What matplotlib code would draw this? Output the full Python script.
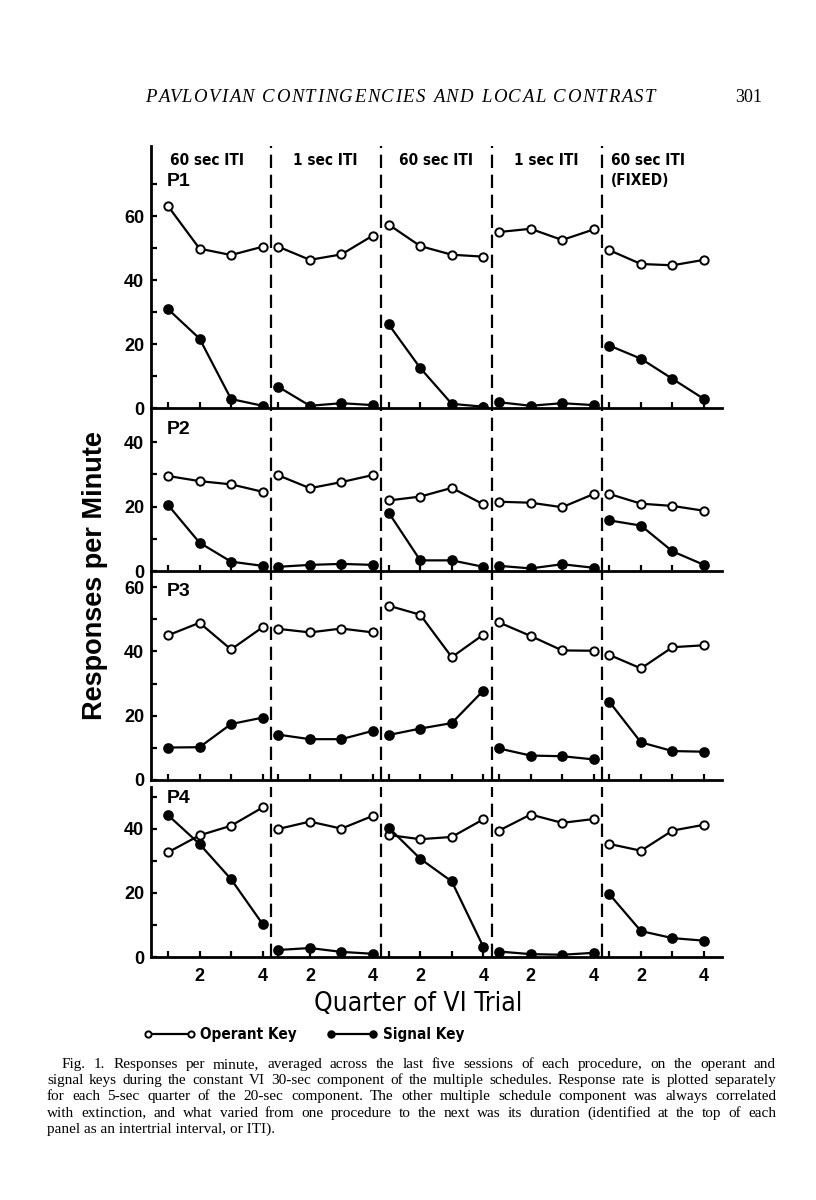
"""Responses per minute on operant and signal keys, four birds, five procedures."""

import matplotlib
matplotlib.use("Agg")
import matplotlib.pyplot as plt
from matplotlib import font_manager as fm

W_PX, H_PX = 816, 1200

sections = ["60 sec ITI", "1 sec ITI", "60 sec ITI", "1 sec ITI", "60 sec ITI\n(FIXED)"]
quarters = [1, 2, 3, 4]
birds = ["P1", "P2", "P3", "P4"]

# one row of 4 quarters per procedure (section)
p1_operant = [[63.1, 49.8, 47.8, 50.4], [50.4, 46.3, 48.0, 53.9], [57.3, 50.6, 47.9, 47.3],
              [55.0, 56.0, 52.5, 55.8], [49.3, 45.0, 44.6, 46.3]]
p1_signal = [[30.9, 21.7, 2.8, 0.7], [6.6, 0.7, 1.5, 0.9], [26.1, 12.5, 1.3, 0.4],
             [1.8, 0.7, 1.5, 0.9], [19.5, 15.4, 9.1, 2.8]]
p2_operant = [[29.5, 27.9, 26.9, 24.6], [29.7, 25.7, 27.6, 29.8], [21.9, 23.1, 25.8, 20.7],
              [21.5, 21.2, 19.8, 23.9], [23.9, 20.9, 20.2, 18.7]]
p2_signal = [[20.5, 8.8, 2.9, 1.6], [1.3, 1.9, 2.2, 1.9], [18.1, 3.3, 3.3, 1.3],
             [1.6, 0.8, 2.1, 1.0], [15.7, 14.1, 6.1, 1.9]]
p3_operant = [[45.0, 48.9, 40.6, 47.5], [47.0, 45.9, 47.1, 45.9], [54.2, 51.4, 38.2, 45.2],
              [49.0, 44.8, 40.3, 40.2], [38.9, 34.7, 41.3, 41.9]]
p3_signal = [[10.1, 10.2, 17.4, 19.4], [14.1, 12.7, 12.7, 15.3], [14.0, 16.0, 17.7, 27.8],
             [9.8, 7.6, 7.4, 6.4], [24.3, 11.7, 9.0, 8.8]]
p4_operant = [[32.7, 38.0, 41.0, 46.7], [40.0, 42.3, 40.1, 44.1], [38.1, 36.8, 37.5, 43.0],
              [39.5, 44.5, 41.9, 43.1], [35.3, 33.2, 39.5, 41.3]]
p4_signal = [[44.3, 35.3, 24.3, 10.3], [2.2, 2.8, 1.6, 1.0], [40.4, 30.7, 23.6, 3.2],
             [1.7, 0.9, 0.7, 1.3], [19.6, 8.1, 5.9, 5.1]]

operant = [p1_operant, p2_operant, p3_operant, p4_operant]
signal = [p1_signal, p2_signal, p3_signal, p4_signal]

y_max = [82, 50.6, 65, 53.1]
y_major = [[0, 20, 40, 60], [0, 20, 40], [0, 20, 40, 60], [0, 20, 40]]
y_minor = [[10, 30, 50, 70], [10, 30], [10, 30, 50], [10, 30, 50]]

header = "PAVLOVIAN CONTINGENCIES AND LOCAL CONTRAST"
caption = [
    "Fig. 1. Responses per minute, averaged across the last five sessions of each procedure, on the operant and",
    "signal keys during the constant VI 30-sec component of the multiple schedules. Response rate is plotted separately",
    "for each 5-sec quarter of the 20-sec component. The other multiple schedule component was always correlated",
    "with extinction, and what varied from one procedure to the next was its duration (identified at the top of each",
    "panel as an intertrial interval, or ITI).",
]

SEC_STEP = 3.5
SANS = ["Liberation Sans", "DejaVu Sans"]
SERIF = ["Liberation Serif", "DejaVu Serif"]


def pick_narrow():
    """Find a condensed sans face if one is installed."""
    entries = [(f.name, f.stretch) for f in fm.fontManager.ttflist]
    for name in ["Liberation Sans Narrow", "DejaVu Sans", "Roboto", "Open Sans", "Noto Sans",
                 "Liberation Sans"]:
        for n, st in entries:
            if n == name and ("Narrow" in n or st not in ("normal", 500, 400)):
                return n, st
    return None, None


NARROW_NAME, NARROW_STRETCH = pick_narrow()


def narrow(size, weight="normal"):
    if NARROW_NAME is None:
        return dict(family=SANS, fontsize=size * 0.88, fontweight=weight)
    return dict(family=[NARROW_NAME, "DejaVu Sans"], fontstretch=NARROW_STRETCH,
                fontsize=size, fontweight=weight)


# panel boxes in pixels (top, bottom)
boxes = [(145.6, 408), (408, 571), (571, 780), (787, 957)]
left_px, right_px = 151, 722

fig = plt.figure(figsize=(W_PX / 100, H_PX / 100), dpi=100)


def fx(px):
    return px / W_PX


def fy(py):
    return 1 - py / H_PX


axes = []
all_x = [s * SEC_STEP + q for s in range(len(sections)) for q in quarters]
for i, (top, bot) in enumerate(boxes):
    ax = fig.add_axes([fx(left_px), fy(bot), fx(right_px - left_px), (bot - top) / H_PX])
    axes.append(ax)
    for s in range(len(sections)):
        xs = [s * SEC_STEP + q for q in quarters]
        ax.plot(xs, operant[i][s], "-o", color="black", lw=1.6, ms=6, mfc="white",
                mew=1.4, label="Operant Key" if s == 0 else None, zorder=3)
        ax.plot(xs, signal[i][s], "-o", color="black", lw=1.6, ms=6.5, mfc="black",
                mew=1.2, label="Signal Key" if s == 0 else None, zorder=3)
    for s in range(len(sections) - 1):
        ax.axvline(s * SEC_STEP + 4.27, color="black", lw=1.6, ls=(0, (6, 3)), zorder=1)

    ax.set_xlim(0.461, 18.57)
    ax.set_ylim(0, y_max[i])
    for side in ("top", "right"):
        ax.spines[side].set_visible(False)
    for side in ("left", "bottom"):
        ax.spines[side].set_linewidth(2)
    ax.set_yticks(y_major[i])
    ax.set_yticks(y_minor[i], minor=True)
    ax.set_yticklabels([str(v) for v in y_major[i]], fontsize=13, fontweight="bold",
                       family=SANS)
    ax.set_xticks(all_x)
    if i == len(boxes) - 1:
        ax.set_xticklabels([str(q) if q % 2 == 0 else "" for s in range(len(sections))
                            for q in quarters], fontsize=13, fontweight="bold", family=SANS)
    else:
        ax.set_xticklabels([])
    ax.tick_params(which="both", direction="in", length=4.5, width=1.6, pad=5)
    ax.tick_params(axis="x", pad=8)
    ax.patch.set_alpha(0)

    ax.text(0.028, [0.863, 0.87, 0.904, 0.93][i], birds[i], transform=ax.transAxes,
            fontsize=14, fontweight="bold", family=SANS, va="center", ha="left")

# procedure labels above P1
top_ax = axes[0]
for s, name in enumerate(sections):
    if "\n" in name:
        top_ax.text(s * SEC_STEP + 1.05, 0.97, name, transform=top_ax.get_xaxis_transform(),
                    ha="left", va="top", linespacing=1.35, **narrow(11, "bold"))
    else:
        xc = s * SEC_STEP + (2.25 if s == 0 else 2.5)
        top_ax.text(xc, 0.97, name, transform=top_ax.get_xaxis_transform(),
                    ha="center", va="top", **narrow(11, "bold"))

fig.text(fx(95), fy(576), "Responses per Minute", rotation=90, ha="center", va="center",
         fontsize=19.5, fontweight="bold", family=SANS)
fig.text(fx(418), fy(1004), "Quarter of VI Trial", ha="center", va="center",
         **narrow(19))

handles, labels = axes[0].get_legend_handles_labels()
nk = narrow(11, "bold")
leg = fig.legend(handles, labels, loc="center left", bbox_to_anchor=(fx(130), fy(1035)),
                 ncol=2, frameon=False, handlelength=3.4, columnspacing=1.9,
                 handletextpad=0.3, numpoints=2, markerscale=0.75,
                 prop=fm.FontProperties(family=nk["family"], weight="bold",
                                        size=nk["fontsize"],
                                        stretch=nk.get("fontstretch", "normal")))

renderer = fig.canvas.get_renderer()


def text_width(s, **kw):
    t = fig.text(0, 0, s, **kw)
    w = t.get_window_extent(renderer).width
    t.remove()
    return w


def spread(tokens, x0, x1, y, **kw):
    """Place tokens left to right so they fill x0..x1 (pixels)."""
    texts = [fig.text(0, y, t, **kw) for t, _ in tokens]
    widths = [t.get_window_extent(renderer).width for t in texts]
    weights = [g for _, g in tokens[:-1]]
    unit = (x1 - x0 - sum(widths)) / sum(weights)
    x = x0
    for t, w, g in zip(texts, widths, weights + [0]):
        t.set_x(fx(x))
        x += w + unit * g


# running head, letter-spaced using natural advances
head_kw = dict(fontsize=13.5, style="italic", family=SERIF, va="baseline", ha="left")
bar = text_width("|", **head_kw)
natural = text_width(header + "|", **head_kw) - bar
track = (655 - 145 - natural) / (len(header) - 1)
for k, ch in enumerate(header):
    if ch == " ":
        continue
    adv = text_width(header[:k] + "|", **head_kw) - bar if k else 0
    fig.text(fx(145 + adv + k * track), fy(102), ch, **head_kw)
fig.text(fx(749), fy(102), "301", ha="center", va="baseline", fontsize=13, family=SERIF)

# justified caption
cap_kw = dict(fontsize=11, family=SERIF, va="baseline", ha="left")
for n, line in enumerate(caption):
    y = fy(1068 + n * 16.2)
    x0 = 62 if n == 0 else 47
    if n == len(caption) - 1:
        fig.text(fx(x0), y, line, **cap_kw)
        continue
    spread([(w, 1) for w in line.split(" ")], x0, 776, y, **cap_kw)

fig.savefig("out.png", dpi=100)
